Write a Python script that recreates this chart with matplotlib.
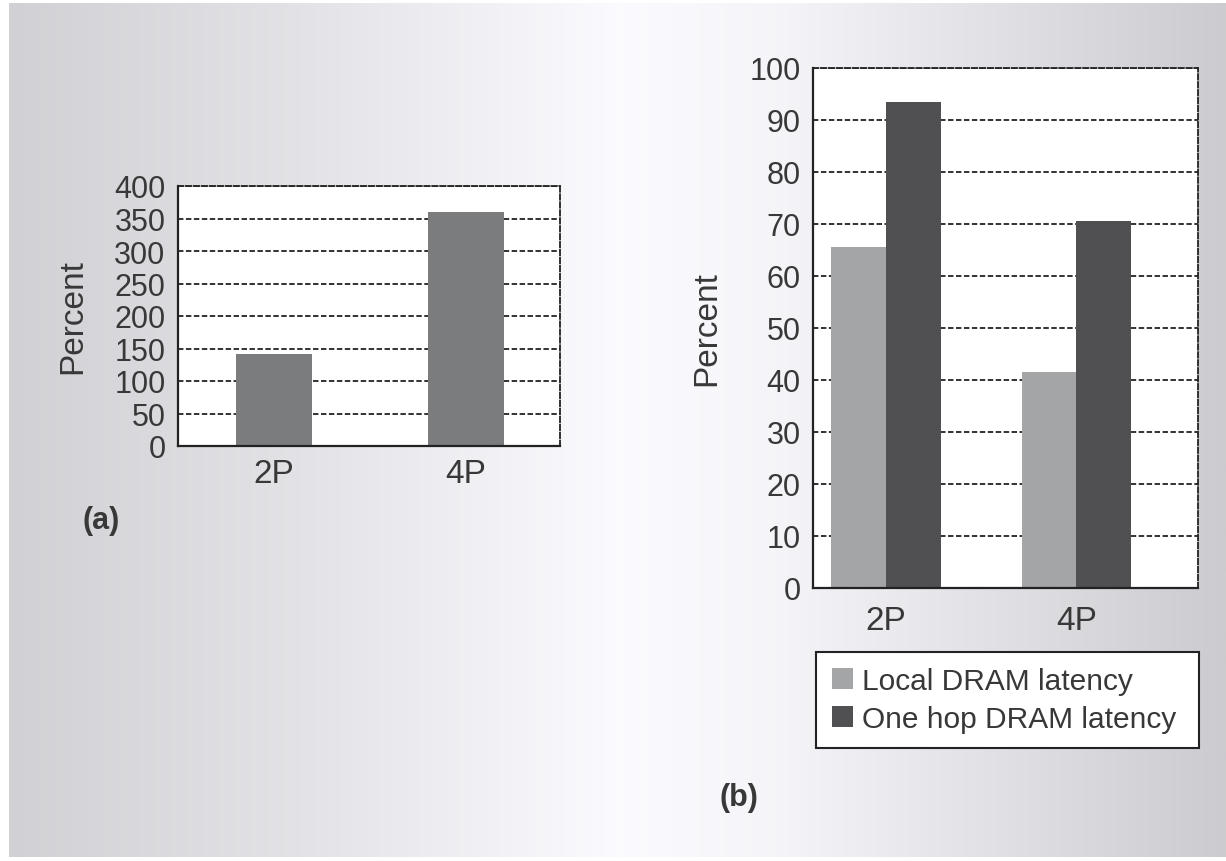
import numpy as np
import matplotlib
matplotlib.use("Agg")
import matplotlib.pyplot as plt
from matplotlib.patches import Patch

plt.rcParams['font.family'] = ['Liberation Sans', 'DejaVu Sans']

# Panel (a)
cats_a = ["2P", "4P"]
vals_a = [142, 360]
ticks_a = [0, 50, 100, 150, 200, 250, 300, 350, 400]

# Panel (b)
cats_b = ["2P", "4P"]
local_dram = [65.5, 41.5]
one_hop_dram = [93.5, 70.5]
ticks_b = [0, 10, 20, 30, 40, 50, 60, 70, 80, 90, 100]
series_names = ["Local DRAM latency", "One hop DRAM latency"]

W, H = 1226, 862
fig = plt.figure(figsize=(W / 100, H / 100), dpi=100)
fig.patch.set_facecolor("white")

def px_axes(left, top, right, bottom, **kw):
    return fig.add_axes([left / W, 1 - bottom / H, (right - left) / W, (bottom - top) / H], **kw)

# Soft horizontal grey gradient behind both panels
bg = px_axes(9, 4, W, 858)
xs = np.linspace(9, W, 600)
v = np.interp(xs, [9, 300, 620, 780, W], [0.82, 0.89, 0.985, 0.96, 0.80])
img = np.stack([v, v, np.clip(v + 0.015, 0, 1)], axis=-1)[None, :, :]
bg.imshow(img, aspect="auto", extent=[0, 1, 0, 1])
bg.set_axis_off()

TXT = "#383838"
GRID = dict(color="#222222", linestyle=(0, (3, 1.4)), linewidth=1.3)

def style_axes(ax, ticks, tick_fs=22, cat_fs=24, catpad=9):
    ax.set_facecolor("white")
    ax.set_axisbelow(True)
    ax.set_yticks(ticks)
    ax.set_yticklabels([str(t) for t in ticks], fontsize=tick_fs, color=TXT)
    ax.set_ylim(ticks[0], ticks[-1])
    ax.tick_params(axis="y", length=0, pad=9)
    ax.tick_params(axis="x", length=0, pad=catpad, labelsize=cat_fs, labelcolor=TXT)
    ax.yaxis.grid(True, **GRID)
    ax.xaxis.grid(False)
    for s in ("left", "bottom"):
        ax.spines[s].set_color("#222222")
        ax.spines[s].set_linewidth(1.6)
    for s in ("top", "right"):
        ax.spines[s].set_color("#222222")
        ax.spines[s].set_linewidth(1.3)
        ax.spines[s].set_linestyle((0, (3, 1.4)))

# ---- Panel (a)
ax1 = px_axes(178, 187, 560, 447)
x1 = np.arange(len(cats_a))
ax1.bar(x1, vals_a, width=0.4, color="#7b7c7e", edgecolor="none", zorder=2)
ax1.set_xlim(-0.5, 1.49)
ax1.set_xticks(x1)
ax1.set_xticklabels(cats_a)
style_axes(ax1, ticks_a, catpad=9)
ax1.set_ylabel("Percent", fontsize=24, color=TXT, va="center")
ax1.yaxis.set_label_coords((73 - 178) / 382, 0.5)
fig.text(101 / W, 1 - 521 / H, "(a)", fontsize=22, fontweight="bold",
         color=TXT, ha="center", va="center")

# ---- Panel (b)
ax2 = px_axes(813, 69, 1198, 589)
x2 = np.arange(len(cats_b))
bw = 0.288
ax2.bar(x2 - bw / 2, local_dram, width=bw, color="#a4a5a7", edgecolor="none",
        zorder=2, label=series_names[0])
ax2.bar(x2 + bw / 2, one_hop_dram, width=bw, color="#505053", edgecolor="none",
        zorder=2, label=series_names[1])
ax2.set_xlim(-0.382, 1.638)
ax2.set_xticks(x2)
ax2.set_xticklabels(cats_b)
style_axes(ax2, ticks_b, catpad=12)
ax2.set_ylabel("Percent", fontsize=24, color=TXT, va="center")
ax2.yaxis.set_label_coords((707 - 813) / 385, 0.5)

handles = [Patch(facecolor="#a4a5a7", edgecolor="none"),
           Patch(facecolor="#505053", edgecolor="none")]
leg = fig.legend(handles, series_names, loc="center",
                 bbox_to_anchor=(816 / W, 1 - 752 / H, 383 / W, 102 / H),
                 mode="expand", borderaxespad=0, fontsize=21.5,
                 handlelength=0.72, handleheight=0.72, handletextpad=0.3,
                 labelspacing=0.32, borderpad=0.52, fancybox=False,
                 frameon=True, labelcolor=TXT)
leg.get_frame().set_edgecolor("#222222")
leg.get_frame().set_linewidth(1.5)
leg.get_frame().set_facecolor("white")
leg.get_frame().set_alpha(1)

fig.text(739 / W, 1 - 798 / H, "(b)", fontsize=22, fontweight="bold",
         color=TXT, ha="center", va="center")

fig.savefig("out.png", dpi=100)
